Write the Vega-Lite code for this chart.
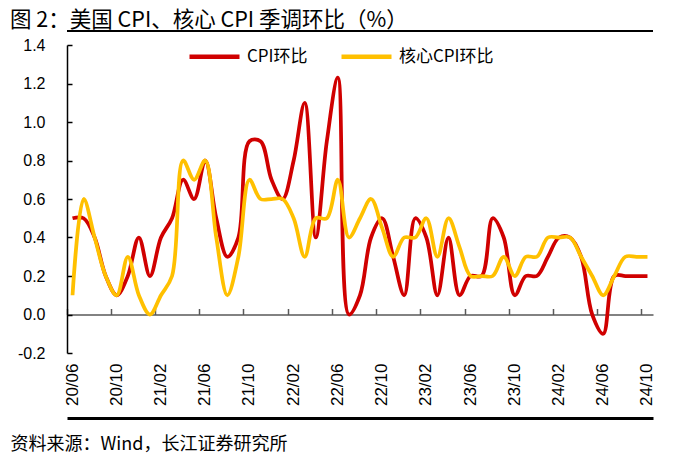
{
  "$schema": "https://vega.github.io/schema/vega-lite/v6.json",
  "width": 586,
  "height": 308,
  "autosize": {"type": "none"},
  "padding": {"left": 67, "top": 45, "right": 30, "bottom": 110},
  "background": "white",
  "title": {
    "text": "图 2：美国 CPI、核心 CPI 季调环比（%）",
    "anchor": "start",
    "frame": "group",
    "dx": -57,
    "offset": -2,
    "font": "Noto Sans CJK SC",
    "fontSize": 21.5,
    "fontWeight": "normal",
    "color": "#000000"
  },
  "config": {"view": {"stroke": null}, "font": "Liberation Sans"},
  "datasets": {
    "cpi": [
      {"month": "20/06", "CPI环比": 0.5, "核心CPI环比": 0.1},
      {"month": "20/07", "CPI环比": 0.5, "核心CPI环比": 0.6},
      {"month": "20/08", "CPI环比": 0.4, "核心CPI环比": 0.4},
      {"month": "20/09", "CPI环比": 0.2, "核心CPI环比": 0.2},
      {"month": "20/10", "CPI环比": 0.1, "核心CPI环比": 0.1},
      {"month": "20/11", "CPI环比": 0.2, "核心CPI环比": 0.3},
      {"month": "20/12", "CPI环比": 0.4, "核心CPI环比": 0.1},
      {"month": "21/01", "CPI环比": 0.2, "核心CPI环比": 0.0},
      {"month": "21/02", "CPI环比": 0.4, "核心CPI环比": 0.1},
      {"month": "21/03", "CPI环比": 0.5, "核心CPI环比": 0.2},
      {"month": "21/04", "CPI环比": 0.7, "核心CPI环比": 0.8},
      {"month": "21/05", "CPI环比": 0.6, "核心CPI环比": 0.7},
      {"month": "21/06", "CPI环比": 0.8, "核心CPI环比": 0.8},
      {"month": "21/07", "CPI环比": 0.5, "核心CPI环比": 0.4},
      {"month": "21/08", "CPI环比": 0.3, "核心CPI环比": 0.1},
      {"month": "21/09", "CPI环比": 0.4, "核心CPI环比": 0.3},
      {"month": "21/10", "CPI环比": 0.9, "核心CPI环比": 0.7},
      {"month": "21/11", "CPI环比": 0.9, "核心CPI环比": 0.6},
      {"month": "21/12", "CPI环比": 0.7, "核心CPI环比": 0.6},
      {"month": "22/01", "CPI环比": 0.6, "核心CPI环比": 0.6},
      {"month": "22/02", "CPI环比": 0.8, "核心CPI环比": 0.5},
      {"month": "22/03", "CPI环比": 1.1, "核心CPI环比": 0.3},
      {"month": "22/04", "CPI环比": 0.4, "核心CPI环比": 0.5},
      {"month": "22/05", "CPI环比": 0.9, "核心CPI环比": 0.5},
      {"month": "22/06", "CPI环比": 1.23, "核心CPI环比": 0.7},
      {"month": "22/07", "CPI环比": 0.0, "核心CPI环比": 0.4},
      {"month": "22/08", "CPI环比": 0.1, "核心CPI环比": 0.5},
      {"month": "22/09", "CPI环比": 0.4, "核心CPI环比": 0.6},
      {"month": "22/10", "CPI环比": 0.5, "核心CPI环比": 0.45},
      {"month": "22/11", "CPI环比": 0.3, "核心CPI环比": 0.3},
      {"month": "22/12", "CPI环比": 0.1, "核心CPI环比": 0.4},
      {"month": "23/01", "CPI环比": 0.5, "核心CPI环比": 0.4},
      {"month": "23/02", "CPI环比": 0.4, "核心CPI环比": 0.5},
      {"month": "23/03", "CPI环比": 0.1, "核心CPI环比": 0.3},
      {"month": "23/04", "CPI环比": 0.4, "核心CPI环比": 0.5},
      {"month": "23/05", "CPI环比": 0.1, "核心CPI环比": 0.35},
      {"month": "23/06", "CPI环比": 0.2, "核心CPI环比": 0.2},
      {"month": "23/07", "CPI环比": 0.2, "核心CPI环比": 0.2},
      {"month": "23/08", "CPI环比": 0.5, "核心CPI环比": 0.2},
      {"month": "23/09", "CPI环比": 0.4, "核心CPI环比": 0.3},
      {"month": "23/10", "CPI环比": 0.1, "核心CPI环比": 0.2},
      {"month": "23/11", "CPI环比": 0.2, "核心CPI环比": 0.3},
      {"month": "23/12", "CPI环比": 0.2, "核心CPI环比": 0.3},
      {"month": "24/01", "CPI环比": 0.3, "核心CPI环比": 0.4},
      {"month": "24/02", "CPI环比": 0.4, "核心CPI环比": 0.4},
      {"month": "24/03", "CPI环比": 0.4, "核心CPI环比": 0.4},
      {"month": "24/04", "CPI环比": 0.3, "核心CPI环比": 0.3},
      {"month": "24/05", "CPI环比": 0.0, "核心CPI环比": 0.2},
      {"month": "24/06", "CPI环比": -0.1, "核心CPI环比": 0.1},
      {"month": "24/07", "CPI环比": 0.2, "核心CPI环比": 0.2},
      {"month": "24/08", "CPI环比": 0.2, "核心CPI环比": 0.3},
      {"month": "24/09", "CPI环比": 0.2, "核心CPI环比": 0.3},
      {"month": "24/10", "CPI环比": 0.2, "核心CPI环比": 0.3}
    ]
  },
  "resolve": {"axis": {"x": "independent"}},
  "layer": [
    {
      "data": {"values": [{"line": "top"}]},
      "mark": {"type": "rule", "color": "#000000", "strokeWidth": 2, "clip": false},
      "encoding": {"y": {"datum": 1.473}}
    },
    {
      "data": {"name": "cpi"},
      "transform": [
        {"fold": ["CPI环比", "核心CPI环比"], "as": ["series", "value"]},
        {"filter": "datum.series === 'CPI环比'"}
      ],
      "mark": {"type": "line", "interpolate": "catmull-rom", "strokeWidth": 3.75},
      "encoding": {
        "x": {
          "field": "month",
          "type": "ordinal",
          "scale": {"type": "band", "paddingInner": 0, "paddingOuter": 0},
          "axis": {
            "orient": "bottom",
            "title": "资料来源：Wind，长江证券研究所",
            "titleFont": "Noto Sans CJK SC",
            "titleFontSize": 18,
            "titleFontWeight": "normal",
            "titleColor": "#000000",
            "titleAnchor": "start",
            "titleAlign": "left",
            "titleBaseline": "alphabetic",
            "titleX": -57,
            "titleY": 31.5,
            "values": ["20/06", "20/10", "21/02", "21/06", "21/10", "22/02", "22/06", "22/10", "23/02", "23/06", "23/10", "24/02", "24/06", "24/10"],
            "offset": 65,
            "domain": true,
            "domainColor": "#000000",
            "domainOpacity": 1,
            "domainWidth": 3,
            "ticks": false,
            "tickSize": 0,
            "labelAngle": 270,
            "labelPadding": -55,
            "labelOverlap": false,
            "labelFont": "Liberation Sans",
            "labelFontSize": 17,
            "labelColor": "#000000",
            "grid": false
          }
        },
        "y": {
          "field": "value",
          "type": "quantitative",
          "scale": {"domain": [-0.2, 1.4], "nice": false, "zero": false},
          "axis": {
            "title": null,
            "values": [-0.2, 0, 0.2, 0.4, 0.6, 0.8, 1.0, 1.2, 1.4],
            "tickCount": 20,
            "labelExpr": "replace(format(datum.value, '.1f'), '−', '-')",
            "labelOverlap": false,
            "grid": false,
            "domainColor": "#000000",
            "domainWidth": 1.5,
            "tickColor": "#000000",
            "tickWidth": 1.5,
            "tickSize": -5,
            "labelPadding": 27,
            "labelFont": "Liberation Sans",
            "labelFontSize": 16,
            "labelColor": "#000000"
          }
        },
        "color": {
          "field": "series",
          "type": "nominal",
          "scale": {"domain": ["CPI环比", "核心CPI环比"], "range": ["#d00000", "#ffc000"]},
          "legend": {
            "title": null,
            "orient": "none",
            "legendX": 120,
            "legendY": -16,
            "direction": "horizontal",
            "symbolType": "stroke",
            "symbolSize": 2500,
            "symbolStrokeWidth": 4.5,
            "labelFont": "Noto Sans CJK SC",
            "labelFontSize": 17,
            "labelColor": "#000000",
            "labelOffset": 5,
            "columnPadding": 24,
            "padding": 0
          }
        }
      }
    },
    {
      "data": {"name": "cpi"},
      "transform": [
        {"fold": ["CPI环比", "核心CPI环比"], "as": ["series", "value"]},
        {"filter": "datum.series === '核心CPI环比'"}
      ],
      "mark": {"type": "line", "interpolate": "catmull-rom", "strokeWidth": 3.75},
      "encoding": {
        "x": {
          "field": "month",
          "type": "ordinal",
          "scale": {"type": "band", "paddingInner": 0, "paddingOuter": 0},
          "axis": {
            "orient": "top",
            "title": null,
            "labels": false,
            "values": ["20/06", "20/10", "21/02", "21/06", "21/10", "22/02", "22/06", "22/10", "23/02", "23/06", "23/10", "24/02", "24/06", "24/10"],
            "offset": -269.5,
            "bandPosition": 0,
            "domainColor": "#595959",
            "domainWidth": 1.5,
            "tickColor": "#595959",
            "tickWidth": 1.5,
            "tickSize": 6,
            "grid": false
          }
        },
        "y": {
          "field": "value",
          "type": "quantitative",
          "scale": {"domain": [-0.2, 1.4], "nice": false, "zero": false},
          "axis": {
            "title": null,
            "values": [-0.2, 0, 0.2, 0.4, 0.6, 0.8, 1.0, 1.2, 1.4],
            "tickCount": 20,
            "labelExpr": "replace(format(datum.value, '.1f'), '−', '-')",
            "labelOverlap": false,
            "grid": false,
            "domainColor": "#000000",
            "domainWidth": 1.5,
            "tickColor": "#000000",
            "tickWidth": 1.5,
            "tickSize": -5,
            "labelPadding": 27,
            "labelFont": "Liberation Sans",
            "labelFontSize": 16,
            "labelColor": "#000000"
          }
        },
        "color": {
          "field": "series",
          "type": "nominal",
          "scale": {"domain": ["CPI环比", "核心CPI环比"], "range": ["#d00000", "#ffc000"]},
          "legend": {
            "title": null,
            "orient": "none",
            "legendX": 120,
            "legendY": -16,
            "direction": "horizontal",
            "symbolType": "stroke",
            "symbolSize": 2500,
            "symbolStrokeWidth": 4.5,
            "labelFont": "Noto Sans CJK SC",
            "labelFontSize": 17,
            "labelColor": "#000000",
            "labelOffset": 5,
            "columnPadding": 24,
            "padding": 0
          }
        }
      }
    }
  ]
}
